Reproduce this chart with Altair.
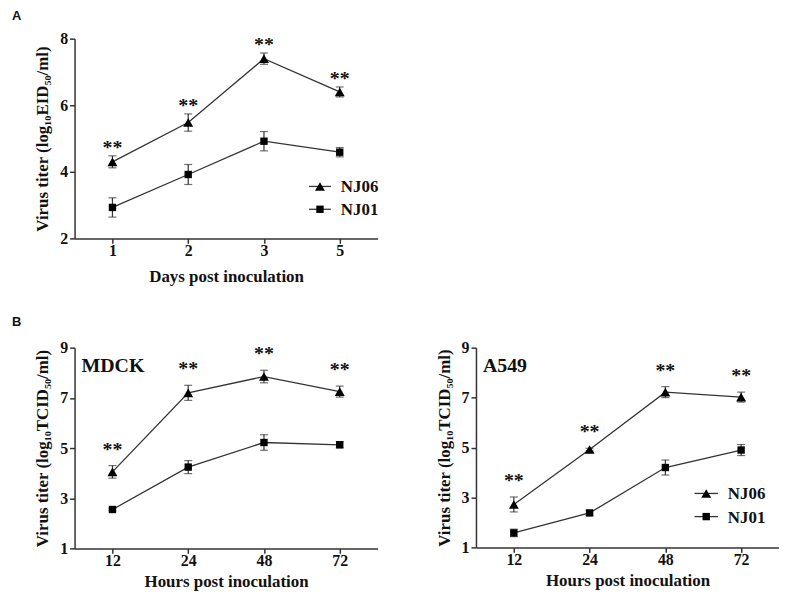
import altair as alt
import pandas as pd

# ---------------- data ----------------
series_names = ["NJ06", "NJ01"]

# Panel A (embryonated eggs)
a_days = ["1", "2", "3", "5"]
a_nj06 = [4.30, 5.48, 7.40, 6.40]
a_nj06_err = [0.18, 0.26, 0.17, 0.15]
a_nj01 = [2.93, 3.92, 4.92, 4.59]
a_nj01_err = [0.29, 0.30, 0.29, 0.14]

# Panel B, MDCK
b_hours = ["12", "24", "48", "72"]
mdck_nj06 = [4.05, 7.20, 7.85, 7.25]
mdck_nj06_err = [0.25, 0.30, 0.25, 0.22]
mdck_nj01 = [2.55, 4.24, 5.22, 5.13]
mdck_nj01_err = [0.05, 0.26, 0.31, 0.12]

# Panel B, A549
a549_nj06 = [2.72, 4.92, 7.22, 7.02]
a549_nj06_err = [0.30, 0.05, 0.22, 0.20]
a549_nj01 = [1.58, 2.38, 4.20, 4.90]
a549_nj01_err = [0.15, 0.10, 0.30, 0.22]

star_text = "**"

SERIF = "Liberation Serif"
INK = "#111111"
LINE = "#333333"

SHAPE = alt.Scale(domain=series_names, range=["triangle-up", "square"])
SIZE = alt.Scale(domain=series_names, range=[100, 55])


def make_df(cats, m6, e6, m1, e1):
    rows = []
    for s, m, e in ((series_names[0], m6, e6), (series_names[1], m1, e1)):
        for c, mv, ev in zip(cats, m, e):
            rows.append(dict(t=c, series=s, mean=mv, lo=mv - ev, hi=mv + ev))
    return pd.DataFrame(rows)


def legend_layer(box):
    # box: (line x0, line x1, label x, first row y, second row y) in the plot's pixels
    x0, x1, xt, r0, r1 = box
    ldf = pd.DataFrame({"series": series_names})
    yleg = alt.Y("series:N", scale=alt.Scale(type="point", domain=series_names,
                                             range=[r0, r1], padding=0),
                 axis=None)
    lb = alt.Chart(ldf).encode(y=yleg)
    seg = lb.mark_rule(color=LINE, strokeWidth=1.3).encode(
        x=alt.value(x0), x2=alt.value(x1))
    sym = lb.mark_point(filled=True, opacity=1, color="black").encode(
        x=alt.value((x0 + x1) / 2),
        shape=alt.Shape("series:N", scale=SHAPE, legend=None),
        size=alt.Size("series:N", scale=SIZE, legend=None))
    txt = lb.mark_text(align="left", baseline="middle", font=SERIF, fontSize=17,
                       fontWeight="bold", color=INK, dy=1).encode(
        x=alt.value(xt), text="series:N")
    return alt.layer(seg, sym, txt)


def panel(df, cats, ydom, yticks, ytitle, xtitle, title_text=None,
          title_offset=8, x_title_pad=9, inner_label=None, legend_box=None,
          star_dy=-8, width=305, height=201):
    xenc = alt.X("t:O", sort=cats,
                 scale=alt.Scale(type="point", padding=0.5),
                 axis=alt.Axis(title=xtitle, labelAngle=0, labelPadding=-1,
                               titlePadding=x_title_pad))
    yaxis = alt.Axis(values=yticks, title=ytitle, labelPadding=2, titlePadding=8)
    yscale = alt.Scale(domain=ydom, nice=False, zero=False)

    def yenc(f):
        return alt.Y(f"{f}:Q", scale=yscale, axis=yaxis)

    base = alt.Chart(df).encode(x=xenc)
    line = base.mark_line(color=LINE, strokeWidth=1.3).encode(
        y=yenc("mean"), detail="series:N")
    rule = base.mark_rule(color=LINE, strokeWidth=1.2).encode(
        y=yenc("lo"), y2="hi:Q")
    cap_hi = base.mark_tick(orient="horizontal", size=8, thickness=1.2,
                            color=LINE).encode(y=yenc("hi"))
    cap_lo = base.mark_tick(orient="horizontal", size=8, thickness=1.2,
                            color=LINE).encode(y=yenc("lo"))
    pts = base.mark_point(filled=True, opacity=1, color="black").encode(
        y=yenc("mean"),
        shape=alt.Shape("series:N", scale=SHAPE, legend=None),
        size=alt.Size("series:N", scale=SIZE, legend=None))
    stars = base.transform_filter(
        alt.datum.series == series_names[0]
    ).transform_calculate(lab=f"'{star_text}'").mark_text(
        font=SERIF, fontSize=20, fontWeight="bold", color=INK,
        baseline="middle", dy=star_dy
    ).encode(y=yenc("hi"), text="lab:N")

    layers = [line, rule, cap_hi, cap_lo, pts, stars]

    if inner_label:
        lab = alt.Chart(pd.DataFrame({"label": [inner_label]})).mark_text(
            align="left", baseline="middle", font=SERIF, fontSize=20,
            fontWeight="bold", color=INK
        ).encode(x=alt.value(7), y=alt.value(18), text="label:N")
        layers.append(lab)

    ch = alt.layer(*layers)
    if legend_box:
        ch = alt.layer(ch, legend_layer(legend_box)).resolve_scale(y="independent")

    props = dict(width=width, height=height)
    if title_text:
        props["title"] = alt.TitleParams(
            title_text, anchor="start", frame="group", dx=-63,
            offset=title_offset,
            font="Liberation Sans", fontSize=13, fontWeight="bold", color=INK)
    return ch.properties(**props)


df_a = make_df(a_days, a_nj06, a_nj06_err, a_nj01, a_nj01_err)
df_m = make_df(b_hours, mdck_nj06, mdck_nj06_err, mdck_nj01, mdck_nj01_err)
df_5 = make_df(b_hours, a549_nj06, a549_nj06_err, a549_nj01, a549_nj01_err)

chart_a = panel(df_a, a_days, [2, 8], [2, 4, 6, 8],
                "Virus titer  (log\u2081\u2080EID\u2085\u2080/ml)",
                "Days post inoculation", title_text="A", title_offset=7.5,
                x_title_pad=10, legend_box=(236, 258, 268, 148.7, 171.7),
                star_dy=-8)
chart_m = panel(df_m, b_hours, [1, 9], [1, 3, 5, 7, 9],
                "Virus titer  (log\u2081\u2080TCID\u2085\u2080/ml)",
                "Hours post inoculation", title_text="B", title_offset=11,
                x_title_pad=5, inner_label="MDCK", star_dy=-16, height=202)
chart_5 = panel(df_5, b_hours, [1, 9], [1, 3, 5, 7, 9],
                "Virus titer  (log\u2081\u2080TCID\u2085\u2080/ml)",
                "Hours post inoculation", x_title_pad=5,
                inner_label="A549", legend_box=(220, 243.5, 253.5, 146.7, 170),
                star_dy=-16, height=201, width=305)

blank = alt.Chart(pd.DataFrame({"v": [0]})).mark_point(opacity=0).encode(
    x=alt.value(0), y=alt.value(0)).properties(width=1, height=1)

chart = alt.ConcatChart(
    concat=[chart_a, blank, chart_m, chart_5],
    columns=2, align="each",
    spacing=alt.RowColnumber(row=32, column=57),
    padding={"left": 4, "top": 0, "right": 0, "bottom": 0},
    background="white",
).configure_view(stroke=None).configure_axis(
    domainColor=LINE, domainWidth=1.5, tickColor=LINE, tickWidth=1.5,
    tickSize=5, grid=False,
    labelFont=SERIF, labelFontWeight="bold", labelFontSize=16, labelColor=INK,
    titleFont=SERIF, titleFontWeight="bold", titleFontSize=17, titleColor=INK,
)

chart.save("out.html", embed_options={"renderer": "svg", "actions": False})
